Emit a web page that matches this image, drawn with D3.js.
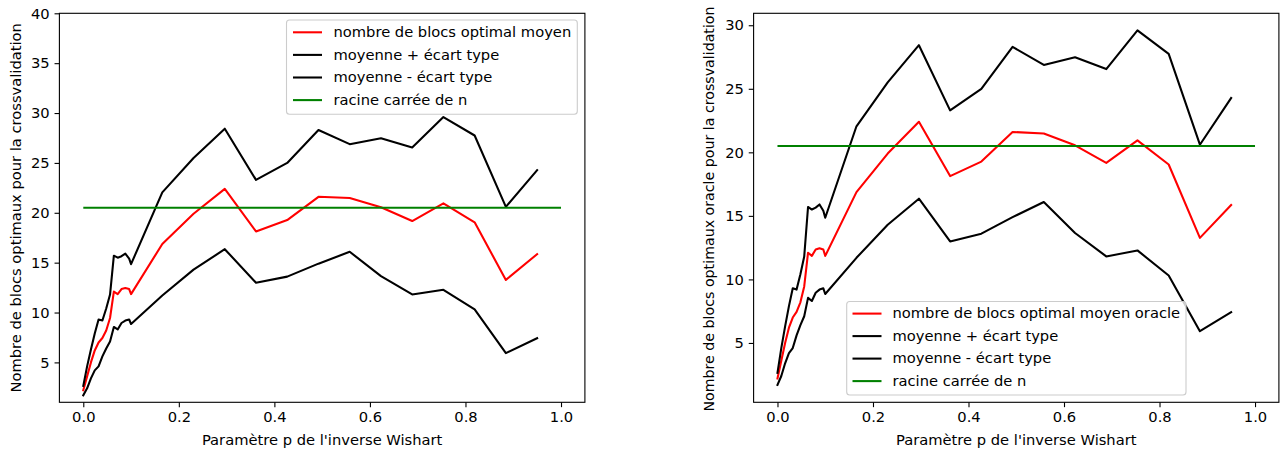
<!DOCTYPE html>
<html>
<head>
<meta charset="utf-8">
<script src="https://cdn.jsdelivr.net/npm/d3@7"></script>
<style>
  html, body { margin: 0; padding: 0; background: #fff; }
  svg { display: block; font-family: "DejaVu Sans", sans-serif; }
</style>
</head>
<body>
<svg id="chart" width="1282" height="451"></svg>
<script>
// Inverse Wishart parameter p
const pValues = [0, 0.008, 0.016, 0.024, 0.032, 0.040, 0.048, 0.056, 0.064, 0.072, 0.080, 0.088, 0.096, 0.1,
  0.1654, 0.2308, 0.2962, 0.3615, 0.4269, 0.4923, 0.5577, 0.6231, 0.6885, 0.7538, 0.8192, 0.8846, 0.95];

// Mean optimal number of blocks
const meanBlocks = [2.2, 3.6, 5.0, 6.2, 7.0, 7.45, 8.2, 9.45, 12.1, 11.85, 12.35, 12.45, 12.35, 11.85,
  16.87, 19.9, 22.4, 18.13, 19.27, 21.6, 21.48, 20.55, 19.17, 20.94, 19.04, 13.27, 15.85];

// Mean + standard deviation
const upperBlocks = [2.65, 4.6, 6.3, 7.9, 9.3, 9.2, 10.4, 11.8, 15.7, 15.5, 15.65, 15.9, 15.4, 14.85,
  22.05, 25.5, 28.43, 23.3, 25.0, 28.3, 26.88, 27.48, 26.55, 29.6, 27.75, 20.6, 24.28];

// Mean - standard deviation
const lowerBlocks = [1.7, 2.4, 3.4, 4.2, 4.6, 5.6, 6.4, 7.1, 8.55, 8.3, 8.95, 9.2, 9.3, 8.85,
  11.7, 14.3, 16.35, 12.99, 13.6, 14.9, 16.09, 13.65, 11.81, 12.28, 10.31, 5.93, 7.43];

// Square root of n, drawn over p in [0, 1]
const sqrtN = 20.5;
const sqrtNSpan = [0, 1];

const xTicks = [0, 0.2, 0.4, 0.6, 0.8, 1.0];
const yTicksLeft = [5, 10, 15, 20, 25, 30, 35, 40];
const yTicksRight = [5, 10, 15, 20, 25, 30];

const xLabel = "Paramètre p de l'inverse Wishart";
const yLabelLeft = "Nombre de blocs optimaux pour la crossvalidation";
const yLabelRight = "Nombre de blocs optimaux oracle pour la crossvalidation";

const legendLeft = ["nombre de blocs optimal moyen", "moyenne + écart type", "moyenne - écart type", "racine carrée de n"];
const legendRight = ["nombre de blocs optimal moyen oracle", "moyenne + écart type", "moyenne - écart type", "racine carrée de n"];

const seriesColors = ["#ff0000", "#000000", "#000000", "#008000"];

const svg = d3.select("#chart");
const FS = 14.7;
const TICK = 4.86;

function drawPanel(cfg) {
  const g = svg.append("g");
  const x = d3.scaleLinear().domain([-0.05, 1.05]).range([cfg.left, cfg.right]);
  const y = d3.scaleLinear().domain(cfg.yDomain).range([cfg.bottom, cfg.top]);

  // data lines
  const line = d3.line().x((d, i) => x(pValues[i])).y(d => y(d));
  const series = [meanBlocks, upperBlocks, lowerBlocks];
  series.forEach((s, k) => {
    g.append("path")
      .datum(s)
      .attr("d", line)
      .attr("fill", "none")
      .attr("stroke", seriesColors[k])
      .attr("stroke-width", 2.08)
      .attr("stroke-linejoin", "round")
      .attr("stroke-linecap", "square");
  });
  g.append("path")
    .datum(sqrtNSpan)
    .attr("d", d3.line().x(d => x(d)).y(() => y(sqrtN)))
    .attr("fill", "none")
    .attr("stroke", seriesColors[3])
    .attr("stroke-width", 2.08);

  // axes
  const xAxis = d3.axisBottom(x).tickValues(xTicks).tickFormat(d3.format(".1f"))
    .tickSizeInner(TICK).tickSizeOuter(0).tickPadding(TICK);
  const yAxis = d3.axisLeft(y).tickValues(cfg.yTicks).tickFormat(d3.format("d"))
    .tickSizeInner(TICK).tickSizeOuter(0).tickPadding(TICK);

  const gx = g.append("g").attr("transform", `translate(0,${cfg.bottom})`).call(xAxis);
  const gy = g.append("g").attr("transform", `translate(${cfg.left},0)`).call(yAxis);
  [gx, gy].forEach(a => {
    a.select(".domain").remove();
    a.selectAll("line").attr("stroke", "#000").attr("stroke-width", 1.1);
    a.selectAll("text").attr("font-size", FS).attr("fill", "#000")
      .attr("font-family", "DejaVu Sans, sans-serif");
  });

  // frame
  g.append("rect")
    .attr("x", cfg.left).attr("y", cfg.top)
    .attr("width", cfg.right - cfg.left).attr("height", cfg.bottom - cfg.top)
    .attr("fill", "none").attr("stroke", "#000").attr("stroke-width", 1.1);

  // axis titles
  g.append("text")
    .attr("x", (cfg.left + cfg.right) / 2).attr("y", 445)
    .attr("text-anchor", "middle").attr("font-size", FS).attr("fill", "#000")
    .text(xLabel);
  g.append("text")
    .attr("transform", `translate(${cfg.yLabelX},${cfg.yLabelY}) rotate(-90)`)
    .attr("text-anchor", "middle").attr("dy", "0.35em")
    .attr("font-size", cfg.yLabelSize).attr("fill", "#000")
    .text(cfg.yLabel);

  // legend
  const L = cfg.legend;
  const lg = g.append("g");
  lg.append("rect")
    .attr("x", L.x0).attr("y", L.y0)
    .attr("width", L.x1 - L.x0).attr("height", L.y1 - L.y0)
    .attr("rx", 3).attr("ry", 3)
    .attr("fill", "#fff").attr("fill-opacity", 0.8)
    .attr("stroke", "#cccccc").attr("stroke-width", 1.1);
  cfg.labels.forEach((lab, i) => {
    const yy = L.firstY + i * L.step;
    lg.append("line")
      .attr("x1", L.lineX).attr("x2", L.lineX + 29)
      .attr("y1", yy).attr("y2", yy)
      .attr("stroke", seriesColors[i]).attr("stroke-width", 2.08);
    lg.append("text")
      .attr("x", L.textX).attr("y", yy).attr("dy", "0.33em")
      .attr("font-size", FS).attr("fill", "#000")
      .text(lab);
  });
}

drawPanel({
  left: 59.4, right: 584.9, top: 13.3, bottom: 402.3,
  yDomain: [1.0, 40], yTicks: yTicksLeft,
  yLabel: yLabelLeft, yLabelX: 16, yLabelY: 207.8, yLabelSize: FS,
  labels: legendLeft,
  legend: { x0: 286.5, x1: 577.3, y0: 20, y1: 114.3, lineX: 293, textX: 333.5, firstY: 32.3, step: 22.6 }
});

drawPanel({
  left: 753.6, right: 1278.9, top: 13.3, bottom: 402.3,
  yDomain: [0.33, 30.94], yTicks: yTicksRight,
  yLabel: yLabelRight, yLabelX: 709, yLabelY: 209, yLabelSize: 14.2,
  labels: legendRight,
  legend: { x0: 846.7, x1: 1186, y0: 301.5, y1: 395, lineX: 852.5, textX: 892.5, firstY: 313.6, step: 22.5 }
});
</script>
</body>
</html>
